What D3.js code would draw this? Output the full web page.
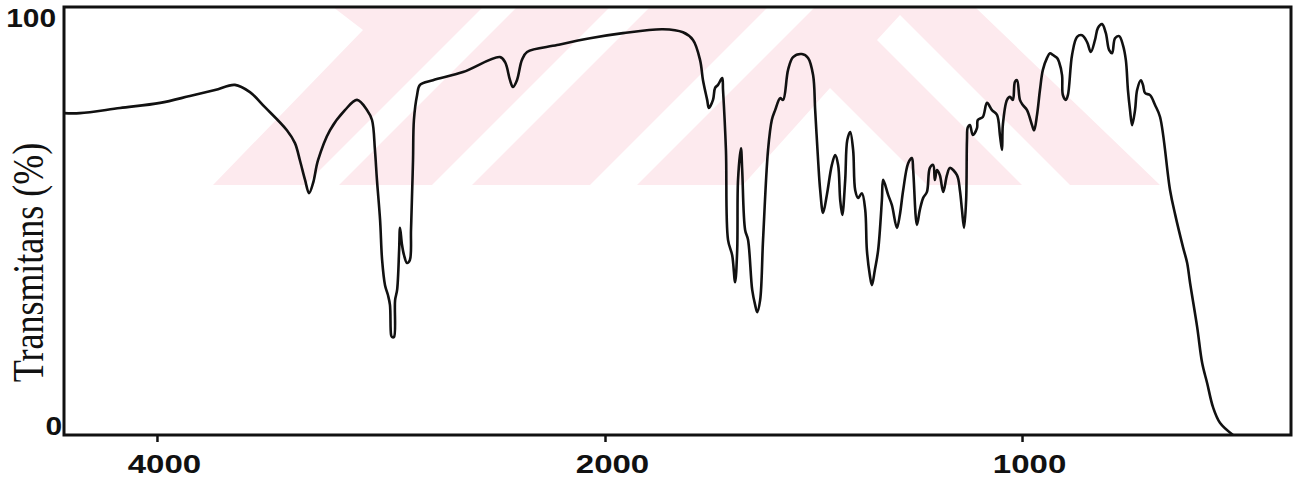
<!DOCTYPE html>
<html>
<head>
<meta charset="utf-8">
<script src="https://cdn.jsdelivr.net/npm/d3@7"></script>
<style>
  body { margin: 0; background: #fff; }
  svg { display: block; }
</style>
</head>
<body>
<svg id="chart"></svg>
<script>
// IR spectrum, transmittance vs wavenumber (cm-1)
const wavenumbers = [
  4415, 4344, 4165, 3986, 3853, 3741, 3652, 3585, 3518, 3420,
  3384, 3362, 3339, 3321, 3303, 3281, 3228, 3161, 3107, 3062,
  3040, 3027, 3018, 3004, 2995, 2982, 2969, 2960, 2955, 2951,
  2942, 2937, 2928, 2919, 2915, 2906, 2897, 2884, 2871, 2866,
  2862, 2857, 2853, 2839, 2826, 2768, 2634, 2469, 2446, 2424,
  2411, 2393, 2371, 2348, 2214, 2067, 1957, 1861, 1813, 1789,
  1772, 1765, 1755, 1751, 1741, 1736, 1729, 1719, 1717, 1710,
  1705, 1695, 1688, 1683, 1681, 1674, 1671, 1664, 1657, 1647,
  1640, 1635, 1628, 1621, 1609, 1600, 1592, 1580, 1573, 1561,
  1549, 1528, 1513, 1501, 1496, 1489, 1484, 1477, 1468, 1456,
  1448, 1441, 1436, 1431, 1424, 1419, 1412, 1405, 1400, 1393,
  1384, 1376, 1372, 1365, 1360, 1353, 1345, 1336, 1333, 1321,
  1312, 1300, 1293, 1285, 1273, 1264, 1261, 1252, 1245, 1237,
  1228, 1221, 1213, 1209, 1204, 1197, 1189, 1180, 1173, 1156,
  1149, 1144, 1139, 1134, 1132, 1130, 1125, 1118, 1108, 1106,
  1094, 1084, 1072, 1060, 1053, 1048, 1046, 1036, 1029, 1022,
  1017, 1012, 1005, 998, 988, 976, 971, 964, 957, 950,
  940, 933, 926, 916, 911, 904, 902, 895, 890, 880,
  868, 856, 844, 835, 825, 818, 808, 799, 791, 784,
  777, 767, 758, 751, 746, 741, 736, 729, 724, 715,
  710, 705, 693, 681, 669, 645, 633, 614, 604, 597,
  580, 568, 556, 542, 525, 494
];
const transmittance = [
  75.2, 75.2, 76.4, 77.6, 79.2, 80.6, 81.8, 80.1, 76.6, 71.2,
  68.2, 64.2, 59.6, 56.5, 58.9, 64.2, 71.2, 75.9, 78.3, 75.9,
  73.6, 66.6, 59.6, 50.2, 40.9, 35.0, 32.7, 30.4, 23.4, 22.9,
  22.9, 31.5, 33.9, 43.2, 48.4, 44.4, 42.0, 40.2, 40.9, 47.9,
  54.9, 64.2, 73.6, 79.4, 81.8, 82.9, 84.8, 88.3, 87.1, 82.9,
  81.3, 82.9, 87.6, 89.5, 91.1, 92.7, 93.9, 94.8, 94.1, 92.3,
  87.6, 82.9, 78.3, 76.4, 78.3, 81.1, 81.8, 83.4, 80.6, 66.6,
  45.6, 42.0, 35.7, 43.2, 59.6, 67.0, 61.9, 47.9, 45.6, 33.9,
  30.4, 28.7, 31.5, 45.6, 66.6, 73.6, 75.9, 78.7, 78.3, 85.3,
  88.3, 89.0, 88.1, 84.1, 75.9, 64.2, 57.2, 51.9, 56.1, 63.1,
  65.4, 63.1, 54.9, 51.4, 59.6, 68.9, 70.8, 66.6, 57.2, 55.4,
  56.5, 52.6, 43.2, 37.4, 35.0, 38.5, 43.2, 54.9, 59.6, 56.1,
  53.7, 48.4, 51.4, 57.2, 63.5, 64.7, 61.9, 49.1, 52.6, 55.4,
  56.8, 62.4, 63.1, 59.6, 61.9, 60.7, 56.8, 60.7, 62.4, 60.7,
  57.2, 52.6, 48.4, 54.9, 68.9, 71.9, 72.4, 70.1, 71.7, 73.6,
  74.3, 77.6, 75.9, 74.8, 70.1, 66.6, 72.4, 78.3, 79.0, 78.3,
  82.5, 82.9, 78.3, 77.1, 75.9, 72.4, 71.2, 74.8, 80.6, 85.3,
  88.1, 89.2, 88.8, 88.1, 87.1, 84.1, 79.4, 78.3, 79.4, 88.8,
  93.0, 93.4, 91.8, 89.5, 92.3, 95.1, 96.0, 93.9, 89.9, 89.2,
  92.7, 93.2, 91.1, 87.6, 80.6, 75.9, 72.4, 75.9, 80.6, 82.9,
  81.8, 79.9, 79.4, 77.1, 74.3, 57.2, 51.6, 43.9, 40.2, 35.5,
  25.2, 16.8, 12.1, 6.5, 2.8, 0
];
const xTicks = [4000, 2000, 1000];
const yTicks = [0, 100];
const yTitle = "Transmitans (%)";

const width = 1299;
const height = 487;
const margin = { top: 7, right: 8, bottom: 52, left: 64 };

const svg = d3.select("#chart").attr("width", width).attr("height", height);

// scale changes at 2000 cm-1, like the instrument chart paper
const x = d3.scaleLinear()
  .domain([4415, 2000, 355])
  .range([margin.left, 605, width - margin.right]);
const y = d3.scaleLinear()
  .domain([0, 100])
  .range([height - margin.bottom, margin.top]);

// faint pink watermark behind the plot
const wm = svg.append("g");
wm.append("polygon")
  .attr("points", "333,7 975,7 1160,185 213,185 363,30")
  .attr("fill", "#fdeaee");
const cuts = [
  "483,7 517,7 339,185 305,185",
  "610,7 650,7 472,185 432,185",
  "768,7 815,7 637,185 590,185",
  "743,185 830,88 927,185",
  "877,40 900,15 1070,185 1022,185"
];
wm.selectAll("polygon.cut")
  .data(cuts)
  .join("polygon")
  .attr("class", "cut")
  .attr("points", d => d)
  .attr("fill", "#fff");

const data = wavenumbers.map((w, i) => ({ w: w, t: transmittance[i] }));

const line = d3.line()
  .x(d => x(d.w))
  .y(d => y(d.t))
  .curve(d3.curveCatmullRom.alpha(0.5));

svg.append("path")
  .datum(data)
  .attr("d", line)
  .attr("fill", "none")
  .attr("stroke", "#111")
  .attr("stroke-width", 2.6)
  .attr("stroke-linejoin", "round");

// frame
svg.append("rect")
  .attr("x", x.range()[0])
  .attr("y", y(100))
  .attr("width", x.range()[2] - x.range()[0])
  .attr("height", y(0) - y(100))
  .attr("fill", "none")
  .attr("stroke", "#111")
  .attr("stroke-width", 3);

// bottom axis
const xAxis = svg.append("g")
  .attr("transform", `translate(0,${y(0)})`)
  .call(d3.axisBottom(x).tickValues(xTicks).tickSize(7).tickFormat(d3.format("d")));
xAxis.select(".domain").remove();
xAxis.selectAll(".tick line").attr("stroke", "#111").attr("stroke-width", 2.5);
xAxis.selectAll(".tick text")
  .attr("y", 0).attr("dy", 0)
  .attr("transform", "translate(7,38) scale(1.27,1)")
  .attr("fill", "#111")
  .style("font-family", "'Liberation Sans', Arial, sans-serif")
  .style("font-weight", "bold")
  .style("font-size", "26px");

// left labels, drawn just inside the tick positions
svg.selectAll("text.ylab")
  .data(yTicks)
  .join("text")
  .attr("class", "ylab")
  .attr("text-anchor", "end")
  .attr("transform", d => `translate(${d === 100 ? 56 : 62},${d === 100 ? y(d) + 20 : y(d)}) scale(1.15,1)`)
  .attr("fill", "#111")
  .style("font-family", "'Liberation Sans', Arial, sans-serif")
  .style("font-weight", "bold")
  .style("font-size", "26px")
  .text(d => d);

svg.append("text")
  .attr("text-anchor", "middle")
  .attr("transform", `translate(43,${(143 + 382) / 2}) scale(1.25,1) rotate(-90)`)
  .attr("fill", "#111")
  .style("font-family", "'Liberation Serif', 'Times New Roman', serif")
  .style("font-size", "36px")
  .text(yTitle);
</script>
</body>
</html>
